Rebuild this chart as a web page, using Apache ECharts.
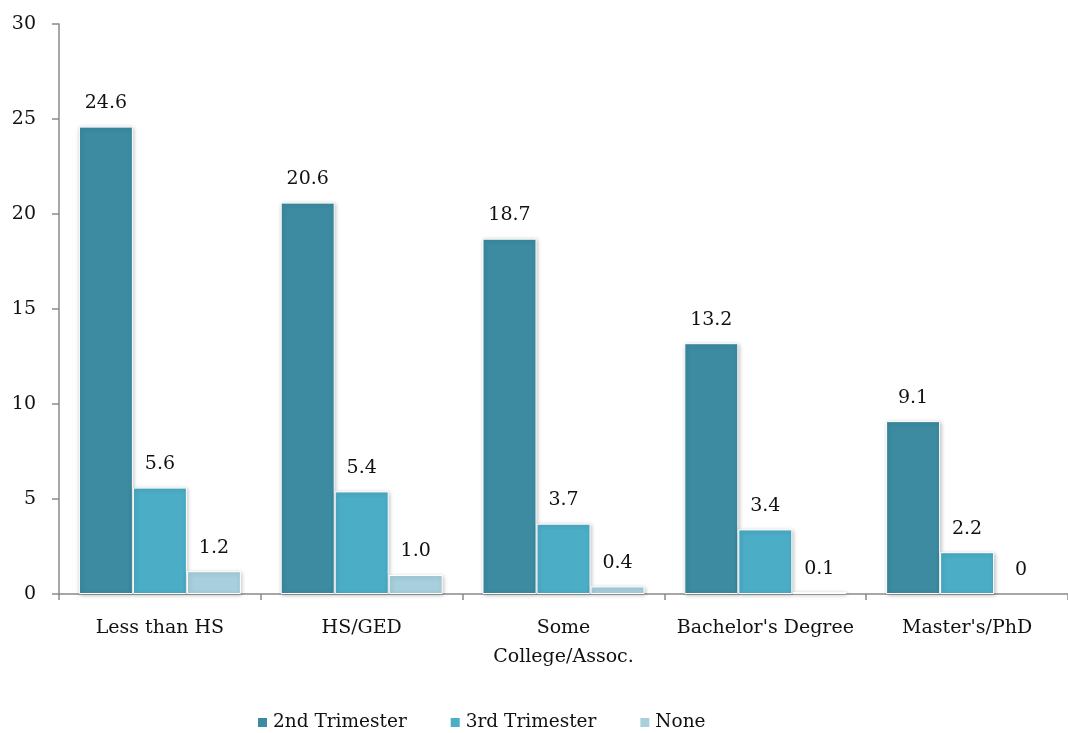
<!DOCTYPE html>
<html><head><meta charset="utf-8">
<script src="https://cdn.jsdelivr.net/npm/echarts@6/dist/echarts.min.js"></script>
<style>html,body{margin:0;padding:0;background:#fff}#c{width:1068px;height:733px}</style>
</head><body><div id="c"></div>
<script>
const categories = ["Less than HS", "HS/GED", "Some\nCollege/Assoc.", "Bachelor's Degree", "Master's/PhD"];
const seriesNames = ["2nd Trimester", "3rd Trimester", "None"];
const second = [24.6, 20.6, 18.7, 13.2, 9.1];
const third = [5.6, 5.4, 3.7, 3.4, 2.2];
const none = [1.2, 1.0, 0.4, 0.1, 0];
const yTicks = [0, 5, 10, 15, 20, 25, 30];
const colors = ["#3C8BA1", "#4BADC6", "#A8CFDD"];
const font = "DejaVu Serif";
const chart = echarts.init(document.getElementById('c'));
function mk(name, data, color) {
  const shadow = { shadowBlur: 4, shadowColor: 'rgba(0,0,0,0.25)', shadowOffsetX: 1, shadowOffsetY: 1 };
  return {
    name, type: 'bar', barWidth: 54, barGap: '0%',
    data: data.map(v => v === 0 ? { value: v, itemStyle: { shadowBlur: 0, shadowColor: 'transparent', borderWidth: 0 } } : v),
    itemStyle: Object.assign({ color, borderColor: '#fff', borderWidth: 1 }, shadow),
    label: { show: true, position: 'top', distance: 14, color: '#111', fontFamily: font, fontSize: 19,
      formatter: p => p.value === 0 ? '0' : p.value.toFixed(1) }
  };
}
chart.setOption({
  animation: false,
  color: colors,
  grid: { left: 59, top: 24, bottom: 139, width: 1015 },
  legend: { top: 708, left: 251, itemWidth: 11, itemHeight: 11, itemGap: 42, icon: 'rect',
    textStyle: { fontFamily: font, fontSize: 18.5, color: '#111' }, data: seriesNames },
  xAxis: { type: 'category', data: categories,
    axisLine: { lineStyle: { color: '#8a8a8a', width: 1.5 } },
    axisTick: { show: true, length: 6, lineStyle: { color: '#8a8a8a', width: 1.5 } },
    axisLabel: { interval: 0, margin: 20, fontFamily: font, fontSize: 19, color: '#111', lineHeight: 29 } },
  yAxis: { type: 'value', min: yTicks[0], max: yTicks[yTicks.length-1], interval: 5,
    splitLine: { show: false },
    axisLine: { show: true, lineStyle: { color: '#8a8a8a', width: 1.5 } },
    axisTick: { show: true, length: 7, lineStyle: { color: '#8a8a8a', width: 1.5 } },
    axisLabel: { margin: 23, fontFamily: font, fontSize: 19, color: '#111' } },
  series: [mk(seriesNames[0], second, colors[0]), mk(seriesNames[1], third, colors[1]), mk(seriesNames[2], none, colors[2])]
});
</script></body></html>
